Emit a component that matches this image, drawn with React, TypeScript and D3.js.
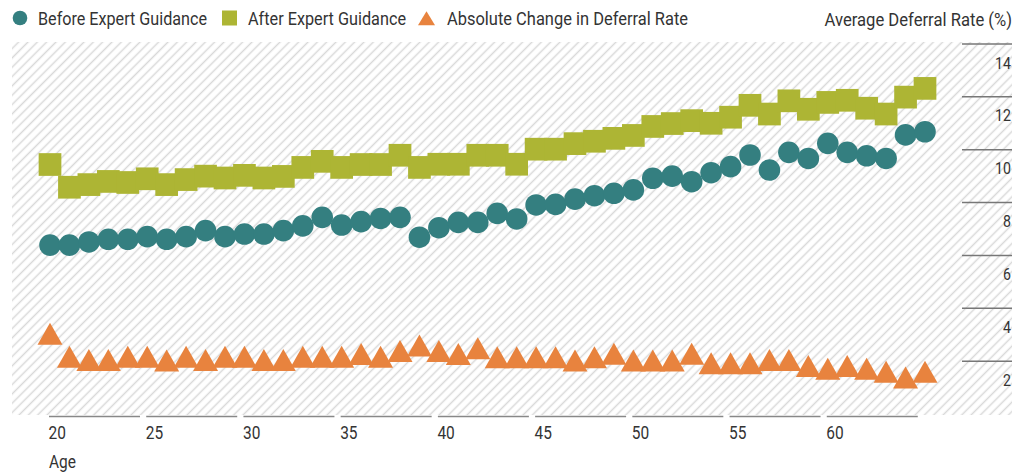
import React from 'react';
import * as d3 from 'd3';

const ages = [
  20, 21, 22, 23, 24, 25, 26, 27, 28, 29, 30, 31, 32, 33, 34, 35, 36, 37, 38, 39, 40, 41, 42,
  43, 44, 45, 46, 47, 48, 49, 50, 51, 52, 53, 54, 55, 56, 57, 58, 59, 60, 61, 62, 63, 64, 65,
];

const beforeRate = [
  6.39, 6.39, 6.51, 6.61, 6.61, 6.71, 6.61, 6.71, 6.94, 6.71, 6.81, 6.81, 6.94, 7.12, 7.44, 7.15,
  7.28, 7.4, 7.44, 6.69, 7.05, 7.25, 7.25, 7.59, 7.38, 7.91, 7.93, 8.13, 8.26, 8.35, 8.48, 8.92,
  9.0, 8.79, 9.13, 9.36, 9.8, 9.23, 9.9, 9.67, 10.24, 9.9, 9.77, 9.67, 10.56, 10.68,
];

const afterRate = [
  9.44, 8.58, 8.68, 8.8, 8.76, 8.9, 8.68, 8.87, 9.0, 8.93, 9.03, 8.93, 8.99, 9.33, 9.56, 9.33,
  9.44, 9.44, 9.79, 9.33, 9.45, 9.45, 9.79, 9.79, 9.45, 10.02, 10.02, 10.23, 10.32, 10.43, 10.54,
  10.88, 10.99, 11.1, 11.0, 11.23, 11.68, 11.35, 11.85, 11.53, 11.79, 11.87, 11.57, 11.35, 11.99,
  12.32,
];

const changeRate = [
  3.04, 2.17, 2.04, 2.04, 2.17, 2.17, 2.02, 2.17, 2.04, 2.17, 2.17, 2.04, 2.04, 2.17, 2.17, 2.17,
  2.27, 2.17, 2.38, 2.59, 2.38, 2.27, 2.49, 2.15, 2.15, 2.15, 2.15, 2.02, 2.15, 2.28, 2.02, 2.02,
  2.02, 2.28, 1.92, 1.92, 1.92, 2.04, 2.04, 1.82, 1.71, 1.82, 1.71, 1.6, 1.38, 1.6,
];

const xTicks = [20, 25, 30, 35, 40, 45, 50, 55, 60];
const yTicks = [2, 4, 6, 8, 10, 12, 14];

const seriesNames = ['Before Expert Guidance', 'After Expert Guidance', 'Absolute Change in Deferral Rate'];

const TEAL = '#347f80';
const OLIVE = '#adb534';
const ORANGE = '#e8833e';
const TEXT = '#333';
const FONT = "Roboto, 'Liberation Sans', sans-serif";

const W = 1027;
const H = 474;

function triPath(cx: number, cy: number, w: number, h: number) {
  return `M${cx},${cy - h / 2}L${cx + w / 2},${cy + h / 2}L${cx - w / 2},${cy + h / 2}Z`;
}

// narrow text: squeeze horizontally to mimic the condensed face
function NText({ x, y, size, anchor = 'start', sx = 0.86, children }: any) {
  return (
    <text
      transform={`translate(${x},${y}) scale(${sx},1)`}
      fontSize={size}
      fill={TEXT}
      textAnchor={anchor}
    >
      {children}
    </text>
  );
}

export default function App() {
  const x = d3.scaleLinear().domain([20, 65]).range([50, 925]);
  const y = d3.scaleLinear().domain([0, 14]).range([414, 44]);
  const sq = 22.7;

  return (
    <div style={{ position: 'absolute', left: 0, top: 0 }}>
      <svg width={W} height={H} style={{ display: 'block', fontFamily: FONT }}>
        <defs>
          <pattern id="hatch" patternUnits="userSpaceOnUse" width={6.6} height={6.6} patternTransform="rotate(45)">
            <line x1={3.3} y1={-1} x2={3.3} y2={7.6} stroke="#d9d9d9" strokeWidth={1.5} />
          </pattern>
        </defs>
        <rect x={0} y={0} width={W} height={H} fill="#fff" />
        <rect x={12} y={42} width={1000} height={373} fill="url(#hatch)" />

        {/* legend */}
        <circle cx={20} cy={18} r={7.3} fill={TEAL} />
        <text x={38} y={24.5} fontSize={18.5} fill={TEXT} textLength={169} lengthAdjust="spacingAndGlyphs">{seriesNames[0]}</text>
        <rect x={222} y={10.5} width={15} height={15} fill={OLIVE} />
        <text x={248} y={24.5} fontSize={18.5} fill={TEXT} textLength={158} lengthAdjust="spacingAndGlyphs">{seriesNames[1]}</text>
        <path d={triPath(426.5, 18.3, 17, 14)} fill={ORANGE} />
        <text x={447} y={24.5} fontSize={18.5} fill={TEXT} textLength={241} lengthAdjust="spacingAndGlyphs">{seriesNames[2]}</text>
        <NText x={1012} y={26} size={18.5} anchor="end" sx={0.9}>Average Deferral Rate (%)</NText>

        {/* y axis on the right */}
        {yTicks.map((t) => (
          <g key={t}>
            <line x1={962} x2={1012} y1={y(t)} y2={y(t)} stroke="#777" strokeWidth={1.5} />
            <NText x={1011} y={y(t) + 24.5} size={16.5} anchor="end">{t}</NText>
          </g>
        ))}

        {/* x axis */}
        {xTicks.map((t) => (
          <g key={t}>
            <line x1={x(t) - 1} x2={x(t) + 90} y1={416.5} y2={416.5} stroke="#888" strokeWidth={1.5} />
            <NText x={x(t) - 1.5} y={439} size={18}>{t}</NText>
          </g>
        ))}
        <NText x={49} y={468} size={18}>Age</NText>

        {/* series */}
        {ages.map((a, i) => (
          <circle key={'b' + a} cx={x(a)} cy={y(beforeRate[i])} r={10.8} fill={TEAL} />
        ))}
        {ages.map((a, i) => (
          <rect key={'a' + a} x={x(a) - sq / 2} y={y(afterRate[i]) - sq / 2} width={sq} height={sq} fill={OLIVE} />
        ))}
        {ages.map((a, i) => (
          <path key={'c' + a} d={triPath(x(a), y(changeRate[i]), 25, 22)} fill={ORANGE} />
        ))}
      </svg>
    </div>
  );
}
